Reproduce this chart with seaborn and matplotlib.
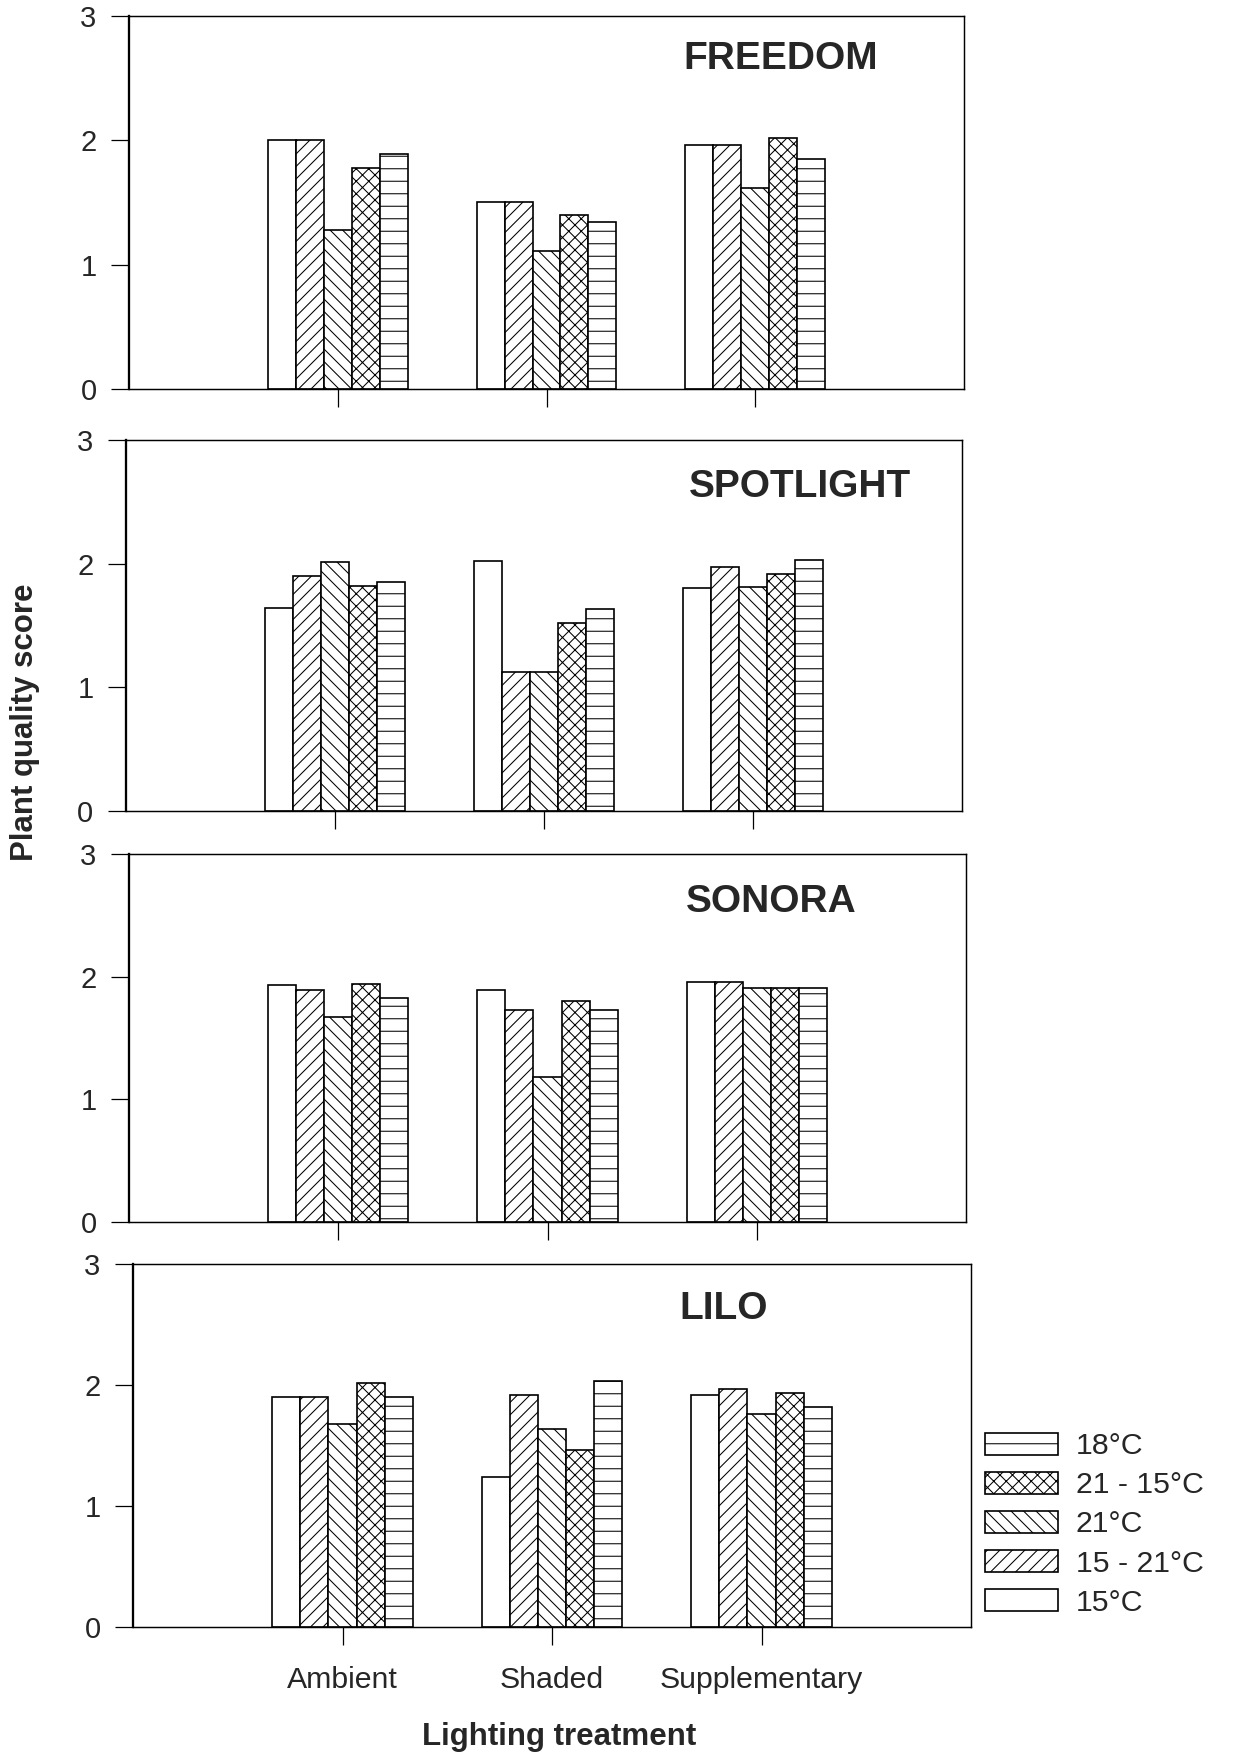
import numpy as np
import pandas as pd
import matplotlib
matplotlib.use("Agg")
import matplotlib.pyplot as plt
import seaborn as sns
from matplotlib.patches import Patch

# ---------------- data ----------------
treatments = ["Ambient", "Shaded", "Supplementary"]
temps = ["15°C", "15 - 21°C", "21°C", "21 - 15°C", "18°C"]
cultivars = ["FREEDOM", "SPOTLIGHT", "SONORA", "LILO"]

# values per temperature regime, ordered Ambient, Shaded, Supplementary
freedom_15 = [2.00, 1.50, 1.96]
freedom_15_21 = [2.00, 1.50, 1.96]
freedom_21 = [1.28, 1.11, 1.62]
freedom_21_15 = [1.78, 1.40, 2.02]
freedom_18 = [1.89, 1.34, 1.85]

spotlight_15 = [1.64, 2.02, 1.80]
spotlight_15_21 = [1.90, 1.12, 1.97]
spotlight_21 = [2.01, 1.12, 1.81]
spotlight_21_15 = [1.82, 1.52, 1.92]
spotlight_18 = [1.85, 1.63, 2.03]

sonora_15 = [1.93, 1.89, 1.96]
sonora_15_21 = [1.89, 1.73, 1.96]
sonora_21 = [1.67, 1.18, 1.91]
sonora_21_15 = [1.94, 1.80, 1.91]
sonora_18 = [1.83, 1.73, 1.91]

lilo_15 = [1.90, 1.24, 1.92]
lilo_15_21 = [1.90, 1.92, 1.97]
lilo_21 = [1.68, 1.64, 1.76]
lilo_21_15 = [2.02, 1.46, 1.93]
lilo_18 = [1.90, 2.03, 1.82]

series = {
    "FREEDOM": [freedom_15, freedom_15_21, freedom_21, freedom_21_15, freedom_18],
    "SPOTLIGHT": [spotlight_15, spotlight_15_21, spotlight_21, spotlight_21_15, spotlight_18],
    "SONORA": [sonora_15, sonora_15_21, sonora_21, sonora_21_15, sonora_18],
    "LILO": [lilo_15, lilo_15_21, lilo_21, lilo_21_15, lilo_18],
}

rows = []
for cv in cultivars:
    for t, vals in zip(temps, series[cv]):
        for tr, v in zip(treatments, vals):
            rows.append({"cultivar": cv, "temp": t, "treatment": tr, "score": v})
df = pd.DataFrame(rows)

# ---------------- style ----------------
sns.set_style("white")
plt.rcParams["font.family"] = ["Liberation Sans", "DejaVu Sans"]
plt.rcParams["hatch.linewidth"] = 0.5
plt.rcParams["hatch.color"] = "black"

hatches = ["", "////", "\\\\\\\\", "xxxx", "--"]

DPI = 150
fig = plt.figure(figsize=(1233 / DPI, 1755 / DPI), dpi=DPI)
W, H = 1233.0, 1755.0

# panel boxes in pixel coords: left, right, top, bottom
boxes = [
    (129, 964, 16, 389),
    (126, 962, 440, 811),
    (129, 966, 854, 1222),
    (133, 971, 1264, 1627),
]
title_pos = [(0.781, 0.884), (0.806, 0.873), (0.767, 0.870), (0.705, 0.876)]

for i, cv in enumerate(cultivars):
    l, r, t, b = boxes[i]
    ax = fig.add_axes([l / W, 1 - b / H, (r - l) / W, (b - t) / H])
    sub = df[df["cultivar"] == cv]
    sns.barplot(data=sub, x="treatment", y="score", hue="temp",
                order=treatments, hue_order=temps, width=0.67,
                color="white", edgecolor="black", linewidth=0.8,
                errorbar=None, legend=False, ax=ax, saturation=1)
    for cont, h in zip(ax.containers, hatches):
        for p in cont:
            p.set_facecolor("white")
            p.set_edgecolor("black")
            p.set_hatch(h)
    ax.set_xlim(-1, 3)
    ax.set_ylim(0, 3)
    ax.set_yticks([0, 1, 2, 3])
    ax.set_xlabel("")
    ax.set_ylabel("")
    ax.tick_params(axis="both", direction="out", length=8.6, width=0.6,
                   color="black", labelsize=14, pad=7, left=True, bottom=True)
    if i < 3:
        ax.set_xticklabels([])
    else:
        ax.tick_params(axis="x", labelsize=14.5, pad=10)
    for s in ax.spines.values():
        s.set_color("black")
        s.set_linewidth(0.7)
    ax.spines["left"].set_linewidth(1.1)
    ax.text(title_pos[i][0], title_pos[i][1], cv, transform=ax.transAxes,
            ha="center", va="center", fontsize=18.7, fontweight="bold")

fig.text(25 / W, 1 - 722 / H, "Plant quality score", rotation=90,
         ha="center", va="center", fontsize=15, fontweight="bold")
fig.text(559 / W, 1 - 1737 / H, "Lighting treatment",
         ha="center", va="center", fontsize=15, fontweight="bold")

handles = [Patch(facecolor="white", edgecolor="black", linewidth=0.8, hatch=h)
           for h in hatches]
leg = fig.legend(handles[::-1], temps[::-1], loc="upper left",
                 bbox_to_anchor=(964 / W, 1 - 1411 / H), frameon=False,
                 fontsize=14.5, handlelength=2.4, handleheight=0.75,
                 handletextpad=0.6, labelspacing=0.37, borderpad=0.2)

fig.savefig("out.png", dpi=DPI)
